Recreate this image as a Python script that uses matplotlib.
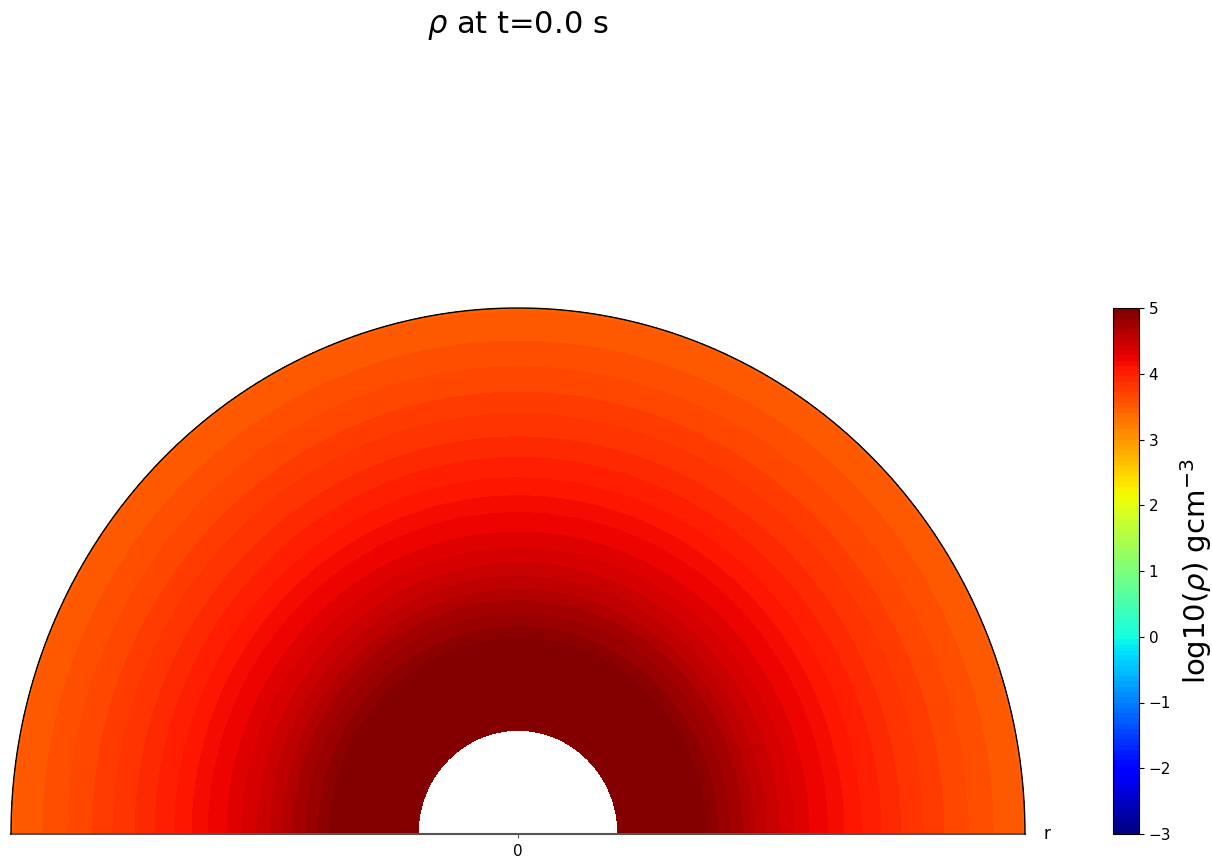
import numpy as np
import matplotlib
matplotlib.use("Agg")
import matplotlib.pyplot as plt

# radial profile (r in units of the outer radius)
r_vals = [0.197, 0.300, 0.371, 0.394, 0.420, 0.444, 0.465, 0.489, 0.515, 0.544,
          0.574, 0.611, 0.643, 0.677, 0.716, 0.755, 0.799, 0.840, 0.888, 0.937, 0.990, 1.0]
log_rho = [4.99, 4.99, 4.92, 4.84, 4.76, 4.68, 4.60, 4.52, 4.44, 4.36,
           4.28, 4.20, 4.12, 4.04, 3.96, 3.88, 3.80, 3.72, 3.64, 3.56, 3.50, 3.44]
cb_ticks = [-3, -2, -1, 0, 1, 2, 3, 4, 5]
time_s = 0.0

W, H = 1212, 859
fig = plt.figure(figsize=(W / 100, H / 100), dpi=100)
ax = fig.add_axes([11 / W, 1 - 834 / H, 1014 / W, 526 / H])
cax = fig.add_axes([1113 / W, 1 - 834 / H, 26 / W, 526 / H])

theta = np.linspace(0, np.pi, 361)
rr, tt = np.meshgrid(np.array(r_vals), theta)
zz = np.tile(np.array(log_rho), (len(theta), 1))
xx = rr * np.cos(tt)
yy = rr * np.sin(tt)

levels = np.linspace(-3, 5, 101)
cf = ax.contourf(xx, yy, zz, levels=levels, cmap="jet", vmin=-3, vmax=5)

# outer boundary
ax.plot(np.cos(theta), np.sin(theta), color="black", lw=1.0, clip_on=False, zorder=5)

ax.set_xlim(-1, 1)
ax.set_ylim(0, 1)
ax.set_aspect("auto")
for s in ["top", "left", "right"]:
    ax.spines[s].set_visible(False)
ax.spines["bottom"].set_color("#555555")
ax.spines["bottom"].set_linewidth(1.5)
ax.set_yticks([])
ax.set_xticks([0])
ax.tick_params(axis="x", length=3, color="#555555", labelsize=11, pad=4)
ax.text((1047 - 11) / 1014, 0.0, "r", transform=ax.transAxes, fontsize=12,
        va="center", ha="center")

cbar = fig.colorbar(cf, cax=cax, ticks=cb_ticks)
cbar.ax.tick_params(labelsize=11)
cbar.outline.set_linewidth(0.8)
cbar.set_label(r"log10($\rho$) gcm$^{-3}$", fontsize=21, labelpad=5)

fig.text(518 / W, 1 - 25 / H, r"$\rho$ at t=%.1f s" % time_s, fontsize=22,
         ha="center", va="center")

fig.savefig("out.png", dpi=100)
